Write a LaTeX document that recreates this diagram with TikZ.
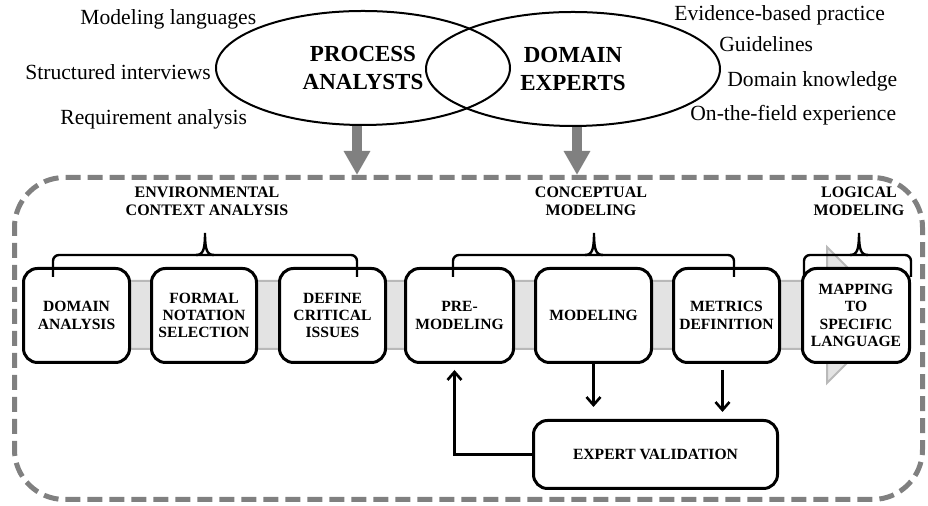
\documentclass[tikz,border=0pt]{standalone}
\usepackage{fontspec}
\setmainfont{Liberation Serif}
\usepackage{tikz}
\usetikzlibrary{shapes.geometric,arrows.meta}
\tikzset{
    stage/.style={draw,line width=1.5pt,rounded corners=7pt,fill=white,align=center,inner sep=0pt,minimum height=47pt,font=\fontsize{7.8}{8.6}\selectfont\bfseries},
    group/.style={align=center,inner sep=0pt,font=\fontsize{8}{9}\selectfont\bfseries},
    actor/.style={ellipse,draw,line width=1pt,inner sep=0pt,minimum width=147pt,minimum height=57pt,align=center,font=\fontsize{11.5}{14}\selectfont\bfseries},
    skill/.style={anchor=base west,inner sep=0pt,font=\fontsize{10.8}{13}\selectfont},
    feed/.style={line width=5pt,gray,-{Triangle[width=12.5pt,length=12pt]}},
    flow/.style={line width=1.3pt,-{Straight Barb[length=4pt,width=7pt]}},
    bracket/.style={line width=1.2pt,rounded corners=3pt}
}

\begin{document}
\begin{tikzpicture}[x=0.5pt,y=-0.5pt]
        \useasboundingbox (0,0) rectangle (928,506);
        \node[draw=gray,line width=2.5pt,dash pattern=on 7.5pt off 3.5pt,rounded corners=25pt,minimum width=454pt,minimum height=161pt] (frame) at (468.5,338.5) {};

        \node[actor] (pa) at (363,68) {PROCESS\\ANALYSTS};
        \node[actor] (de) at (573,69) {DOMAIN\\EXPERTS};

        \node[skill] (lang) at (80,25) {Modeling languages};
        \node[skill] (intv) at (25,80) {Structured interviews};
        \node[skill] (reqs) at (60,125) {Requirement analysis};
        \node[skill] (evid) at (674,21) {Evidence-based practice};
        \node[skill] (guid) at (719,52) {Guidelines};
        \node[skill] (know) at (727,87) {Domain knowledge};
        \node[skill] (fiel) at (690,121) {On-the-field experience};

        \draw[fill=gray!22,draw=gray!55,line width=1pt] (30,281) -- (827,281) -- (827,247) -- (895,315) -- (827,383) -- (827,349) -- (30,349) -- cycle;

        \node[stage,minimum width=53pt] (dom) at (76.5,315.5) {DOMAIN\\ANALYSIS};
        \node[stage,minimum width=52.5pt] (nota) at (204,315.5) {FORMAL\\NOTATION\\SELECTION};
        \node[stage,minimum width=53pt] (crit) at (332.5,315.5) {DEFINE\\CRITICAL\\ISSUES};
        \node[stage,minimum width=54pt] (pre) at (459.5,315.5) {PRE-\\MODELING};
        \node[stage,minimum width=58pt] (model) at (593.5,315.5) {MODELING};
        \node[stage,minimum width=53pt] (metr) at (726.5,315.5) {METRICS\\DEFINITION};
        \node[stage,minimum width=53.5pt] (map) at (856,315.5) {MAPPING\\TO\\SPECIFIC\\LANGUAGE};
        \node[stage,minimum width=122pt,minimum height=34pt] (valid) at (655.5,454.5) {EXPERT VALIDATION};

        \node[group] (env) at (207,201) {ENVIRONMENTAL\\CONTEXT ANALYSIS};
        \node[group] (conc) at (591,201) {CONCEPTUAL\\MODELING};
        \node[group] (logi) at (859,201) {LOGICAL\\MODELING};

        \foreach \l/\m/\r in {53/205/357,453/594/734,804/859/911}{
            \draw[bracket] (\l,277) -- (\l,255) -- (\r,255) -- (\r,277);
            \draw[line width=1.2pt] ({\m-9},255) .. controls ({\m-2},255) and (\m,250) .. (\m,233) .. controls (\m,250) and ({\m+2},255) .. ({\m+9},255);
        }

        \draw[feed] ([xshift=-3pt]pa.south) -- ([xshift=-3pt]pa.south |- frame.north);
        \draw[feed] ([xshift=2pt]de.south) -- ([xshift=2pt]de.south |- frame.north);

        \draw[flow,shorten >=6pt] (model.south) -- (model.south |- valid.north);
        \draw[flow,shorten <=3pt,shorten >=3.5pt] ([xshift=-2pt]metr.south) -- ([xshift=-2pt]metr.south |- valid.north);
        \draw[flow,shorten >=3pt] (valid.west) -| ([xshift=-2.5pt]pre.south);
\end{tikzpicture}
\end{document}
